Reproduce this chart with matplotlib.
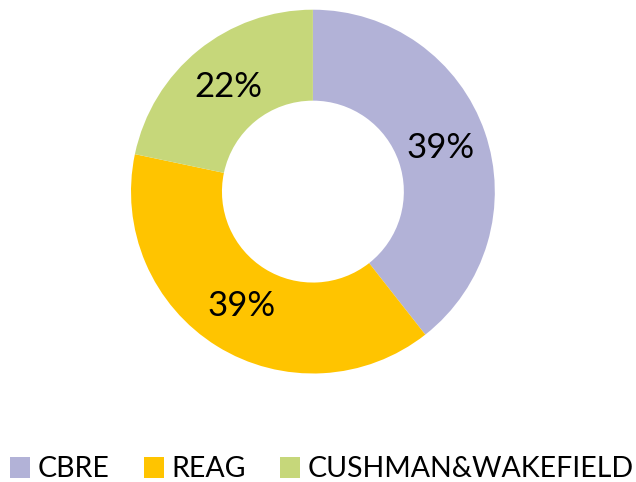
import matplotlib
matplotlib.use("Agg")
import matplotlib.pyplot as plt
from matplotlib.patches import Patch

categories = ["CBRE", "REAG", "CUSHMAN&WAKEFIELD"]
values = [39.4, 38.9, 21.7]
colors = ["#B2B2D7", "#FFC400", "#C6D77A"]

plt.rcParams['font.family'] = ['Lato', 'DejaVu Sans']

fig = plt.figure(figsize=(6.36, 4.82), dpi=100)
ax = fig.add_axes([0.206, 0.225, 0.572, 0.755])
wedges, texts, autotexts = ax.pie(
    values, colors=colors, startangle=90, counterclock=False,
    radius=1.0, autopct=lambda p: f"{p:.0f}%", pctdistance=0.74,
    wedgeprops=dict(width=0.5, linewidth=0),
    textprops=dict(fontsize=25, color="black"))
ax.set_xlim(-1, 1)
ax.set_ylim(-1, 1)
ax.set_aspect("equal")
ax.axis("off")

handles = [Patch(facecolor=c, edgecolor="none") for c in colors]
fig.legend(handles, categories, loc="center", bbox_to_anchor=(0.506, 0.026),
           ncol=3, frameon=False, fontsize=20.5, handlelength=0.72,
           handleheight=0.72, handletextpad=0.25, columnspacing=1.2,
           borderpad=0, borderaxespad=0)

fig.savefig("out.png", dpi=100)
